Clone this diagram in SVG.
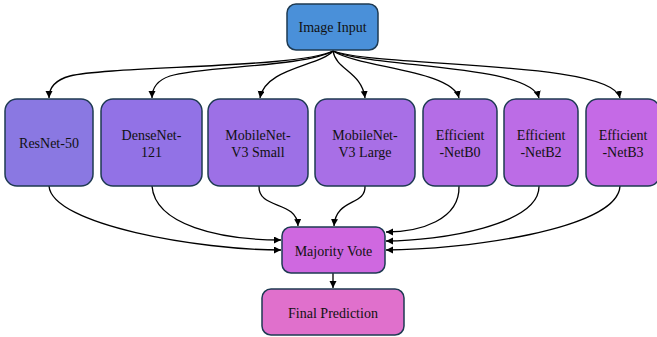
<svg xmlns="http://www.w3.org/2000/svg" width="657" height="337" viewBox="0 0 657 337">
<defs>
<marker id="ah" markerUnits="userSpaceOnUse" markerWidth="8" markerHeight="8" refX="7" refY="3.5" orient="auto">
<path d="M0,0 L7,3.5 L0,7 z" fill="#000"/>
</marker>
<style>
.n rect{stroke:#1e3a52;stroke-width:1.5}
.n text{font-family:"Liberation Serif","Times New Roman",serif;font-size:14px;fill:#111;text-anchor:middle}
#edges path{fill:none;stroke:#000;stroke-width:1.3;marker-end:url(#ah)}
</style>
</defs>
<g id="edges">
<path d="M333,51 C300,68 110,66 70,76 C55,80 49,88 49,98"/>
<path d="M333,51 C305,67 200,66 170,76 C158,80 152,88 152,98"/>
<path d="M333,51 C320,66 265,68 260,98"/>
<path d="M333,51 C336,70 362,72 365,98"/>
<path d="M333,51 C360,68 452,70 459,98"/>
<path d="M333,51 C370,68 530,64 539,98"/>
<path d="M333,51 C380,68 612,60 620,98"/>
<path d="M49,186 C52,225 200,250 281,250"/>
<path d="M152,186 C155,225 220,240 281,240"/>
<path d="M259,186 C258,210 297,200 298,226"/>
<path d="M365,186 C366,206 336,198 334,226"/>
<path d="M459,186 C460,220 420,232 386,232"/>
<path d="M539,186 C540,225 440,241 386,241"/>
<path d="M620,186 C618,230 460,250 386,250"/>
<path d="M333,273 L333,288"/>
</g>
<g id="image_input" class="n"><rect x="287" y="4" width="91" height="46" rx="9" fill="#4a90d9"/><text x="332.5" y="32">Image Input</text></g>
<g id="resnet50" class="n"><rect x="5" y="99" width="88" height="87" rx="12" fill="#8a78e2"/><text x="49" y="147.5">ResNet-50</text></g>
<g id="densenet121" class="n"><rect x="101" y="99" width="101" height="87" rx="12" fill="#9272e6"/><text x="151.5" y="139.5">DenseNet-</text><text x="151.5" y="156.5">121</text></g>
<g id="mobilenet_small" class="n"><rect x="208" y="99" width="100" height="87" rx="12" fill="#9d70e6"/><text x="258" y="139.5">MobileNet-</text><text x="258" y="156.5">V3 Small</text></g>
<g id="mobilenet_large" class="n"><rect x="315" y="99" width="100" height="87" rx="12" fill="#a86fe6"/><text x="365" y="139.5">MobileNet-</text><text x="365" y="156.5">V3 Large</text></g>
<g id="effb0" class="n"><rect x="423" y="99" width="74" height="87" rx="12" fill="#b46de6"/><text x="460" y="139.5">Efficient</text><text x="460" y="156.5">-NetB0</text></g>
<g id="effb2" class="n"><rect x="504" y="99" width="74" height="87" rx="12" fill="#bc6ce6"/><text x="541" y="139.5">Efficient</text><text x="541" y="156.5">-NetB2</text></g>
<g id="effb3" class="n"><rect x="586" y="99" width="74" height="87" rx="12" fill="#c56ae6"/><text x="623" y="139.5">Efficient</text><text x="623" y="156.5">-NetB3</text></g>
<g id="majority_vote" class="n"><rect x="282" y="227" width="103" height="46" rx="9" fill="#cf68e0"/><text x="333.5" y="255.5">Majority Vote</text></g>
<g id="final_prediction" class="n"><rect x="262" y="289" width="142" height="46" rx="9" fill="#e070cc"/><text x="333" y="317.5">Final Prediction</text></g>
</svg>
